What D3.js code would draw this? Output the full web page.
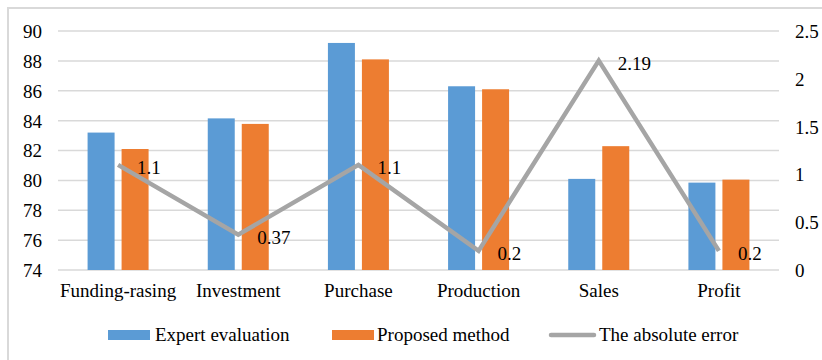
<!DOCTYPE html>
<html>
<head>
<meta charset="utf-8">
<script src="https://cdn.jsdelivr.net/npm/d3@7"></script>
<style>
  body { margin: 0; background: #fff; }
</style>
</head>
<body>
<svg id="chart"></svg>
<script>
// data
const categories = ['Funding-rasing', 'Investment', 'Purchase', 'Production', 'Sales', 'Profit'];
const expertValues = [83.2, 84.15, 89.2, 86.3, 80.1, 79.85];
const proposedValues = [82.1, 83.78, 88.1, 86.1, 82.29, 80.05];
const absErrors = [1.1, 0.37, 1.1, 0.2, 2.19, 0.2];
const errorLabels = ['1.1', '0.37', '1.1', '0.2', '2.19', '0.2'];
const leftTicks = [74, 76, 78, 80, 82, 84, 86, 88, 90];
const rightTicks = [0, 0.5, 1, 1.5, 2, 2.5];
const seriesNames = ['Expert evaluation', 'Proposed method', 'The absolute error'];

const W = 822, H = 360;
const margin = { top: 31, right: 43, bottom: 90, left: 58 };
const colors = { expert: '#5b9bd5', proposed: '#ed7d31', error: '#a5a5a5', grid: '#d9d9d9' };
const FONT = '"Liberation Serif", "Times New Roman", Times, serif';

const svg = d3.select('#chart').attr('width', W).attr('height', H)
  .attr('font-family', FONT);

// outer chart border (runs past the right/bottom of the picture)
svg.append('rect')
  .attr('x', 8).attr('y', 8)
  .attr('width', 840).attr('height', 380)
  .attr('fill', 'none').attr('stroke', colors.grid).attr('stroke-width', 2);

const width = W - margin.left - margin.right;
const height = H - margin.top - margin.bottom;
const chart = svg.append('g').attr('transform', `translate(${margin.left},${margin.top})`);

const x0 = d3.scaleBand().domain(categories).range([0, width]).padding(0);
const groupW = 61;
const x1 = d3.scaleBand().domain(['expert', 'proposed'])
  .range([(x0.bandwidth() - groupW) / 2, (x0.bandwidth() + groupW) / 2])
  .paddingInner(0.206);
const yLeft = d3.scaleLinear().domain([74, 90]).range([height, 0]);
const yRight = d3.scaleLinear().domain([0, 2.5]).range([height, 0]);

const styleText = sel => sel.style('font-family', FONT).style('font-size', '19px').attr('fill', '#000');

// gridlines
chart.append('g').selectAll('line').data(leftTicks).join('line')
  .attr('x1', 0).attr('x2', width)
  .attr('y1', d => yLeft(d)).attr('y2', d => yLeft(d))
  .attr('stroke', colors.grid).attr('stroke-width', 1.5);

// left axis
const yAxisL = d3.axisLeft(yLeft).tickValues(leftTicks).tickSize(0).tickPadding(16);
chart.append('g').call(yAxisL)
  .call(g => g.select('.domain').remove())
  .selectAll('text').call(styleText).attr('dy', '0.34em');

// right axis
const yAxisR = d3.axisRight(yRight).tickValues(rightTicks).tickSize(0).tickPadding(16)
  .tickFormat(d => String(d));
chart.append('g').attr('transform', `translate(${width},0)`).call(yAxisR)
  .call(g => g.select('.domain').remove())
  .selectAll('text').call(styleText).attr('dy', '0.34em');

// category axis
const xAxis = d3.axisBottom(x0).tickSize(0).tickPadding(14);
chart.append('g').attr('transform', `translate(0,${height})`).call(xAxis)
  .call(g => g.select('.domain').remove())
  .selectAll('text').call(styleText).attr('dy', '0.71em');

// bars
const rows = categories.map((c, i) => ({ cat: c, expert: expertValues[i], proposed: proposedValues[i] }));
const groups = chart.append('g').selectAll('g').data(rows).join('g')
  .attr('transform', d => `translate(${x0(d.cat)},0)`);
groups.selectAll('rect')
  .data(d => [{ key: 'expert', v: d.expert }, { key: 'proposed', v: d.proposed }])
  .join('rect')
  .attr('x', d => x1(d.key))
  .attr('width', x1.bandwidth())
  .attr('y', d => yLeft(d.v))
  .attr('height', d => height - yLeft(d.v))
  .attr('fill', d => colors[d.key]);

// absolute error line (right axis)
const errPts = categories.map((c, i) => ({ cat: c, v: absErrors[i], label: errorLabels[i] }));
const line = d3.line()
  .x(d => x0(d.cat) + x0.bandwidth() / 2)
  .y(d => yRight(d.v));
chart.append('path').datum(errPts)
  .attr('d', line)
  .attr('fill', 'none')
  .attr('stroke', colors.error)
  .attr('stroke-width', 4.5)
  .attr('stroke-linejoin', 'miter');

chart.append('g').selectAll('text').data(errPts).join('text')
  .attr('x', d => x0(d.cat) + x0.bandwidth() / 2 + 19)
  .attr('y', d => yRight(d.v) + 3)
  .attr('dy', '0.34em')
  .call(styleText)
  .text(d => d.label);

// legend
const legend = svg.append('g');
const legY = 335;
legend.append('rect').attr('x', 108).attr('y', legY - 5).attr('width', 42).attr('height', 10).attr('fill', colors.expert);
legend.append('text').attr('x', 155).attr('y', legY).attr('dy', '0.34em').call(styleText).text(seriesNames[0]);
legend.append('rect').attr('x', 332).attr('y', legY - 5).attr('width', 42).attr('height', 10).attr('fill', colors.proposed);
legend.append('text').attr('x', 377).attr('y', legY).attr('dy', '0.34em').call(styleText).text(seriesNames[1]);
legend.append('line').attr('x1', 551).attr('x2', 594).attr('y1', legY).attr('y2', legY)
  .attr('stroke', colors.error).attr('stroke-width', 4.5).attr('stroke-linecap', 'round');
legend.append('text').attr('x', 599).attr('y', legY).attr('dy', '0.34em').call(styleText).text(seriesNames[2]);
</script>
</body>
</html>
